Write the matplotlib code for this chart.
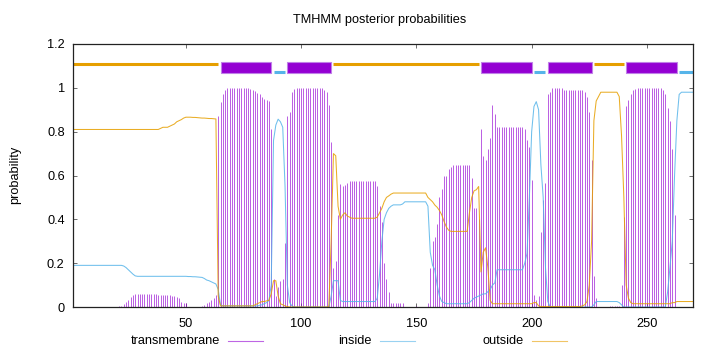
import matplotlib
matplotlib.use("Agg")
import matplotlib.pyplot as plt
import numpy as np
from matplotlib.lines import Line2D
from matplotlib.patches import Rectangle
from matplotlib.ticker import FuncFormatter

# posterior probabilities per residue (1..270)
tm = [
    0, 0, 0, 0, 0, 0, 0, 0, 0, 0,
    0, 0, 0, 0, 0, 0, 0, 0, 0, 0,
    0.003, 0.006, 0.014, 0.025, 0.03, 0.045, 0.053, 0.058, 0.058, 0.058,
    0.058, 0.058, 0.058, 0.058, 0.058, 0.058, 0.058, 0.057, 0.057, 0.057,
    0.057, 0.056, 0.055, 0.05, 0.05, 0.045, 0.04, 0.025, 0.02, 0.02,
    0, 0, 0, 0, 0, 0, 0.005, 0.01, 0.017, 0.024,
    0.03, 0.04, 0.055, 0.87, 0.935, 0.97, 0.99, 1.0, 1.0, 1.0,
    1.0, 1.0, 1.0, 1.0, 1.0, 1.0, 1.0, 0.995, 0.99, 0.985,
    0.975, 0.97, 0.96, 0.95, 0.945, 0.94, 0.81, 0.13, 0.05, 0.09,
    0.12, 0.13, 0.29, 0.87, 0.89, 0.98, 0.995, 1.0, 1.0, 1.0,
    1.0, 1.0, 1.0, 1.0, 1.0, 1.0, 1.0, 1.0, 1.0, 0.99,
    0.98, 0.92, 0.755, 0.18, 0.21, 0.42, 0.56, 0.55, 0.555, 0.565,
    0.575, 0.575, 0.575, 0.575, 0.575, 0.575, 0.575, 0.575, 0.575, 0.575,
    0.575, 0.575, 0.55, 0.46, 0.39, 0.2, 0.13, 0.07, 0.02, 0.02,
    0.02, 0.02, 0.02, 0.02, 0, 0, 0, 0, 0, 0.005,
    0, 0, 0, 0, 0.02, 0.18, 0.3, 0.32, 0.38, 0.5,
    0.54, 0.6, 0.6, 0.63, 0.64, 0.647, 0.647, 0.647, 0.647, 0.647,
    0.647, 0.647, 0.647, 0.59, 0.45, 0.45, 0.4, 0.81, 0.69, 0.67,
    0.72, 0.77, 0.92, 0.88, 0.82, 0.82, 0.82, 0.82, 0.82, 0.82,
    0.82, 0.82, 0.82, 0.82, 0.82, 0.82, 0.81, 0.76, 0.73, 0.58,
    0.055, 0.03, 0.05, 0.34, 0.49, 0.565, 0.97, 0.98, 1.0, 1.0,
    1.0, 1.0, 1.0, 0.99, 0.99, 0.99, 0.99, 0.99, 0.99, 0.99,
    0.99, 0.99, 0.98, 0.96, 0.89, 0.67, 0.14, 0.04, 0, 0,
    0, 0, 0, 0.005, 0.005, 0.005, 0.005, 0.005, 0.1, 0.41,
    0.915, 0.945, 0.97, 0.99, 0.995, 1.0, 1.0, 1.0, 1.0, 1.0,
    1.0, 1.0, 1.0, 1.0, 1.0, 1.0, 0.99, 0.97, 0.91, 0.85,
    0.72, 0.42, 0, 0, 0, 0, 0, 0, 0, 0,
]

inside = [
    0.19, 0.19, 0.19, 0.19, 0.19, 0.19, 0.19, 0.19, 0.19, 0.19,
    0.19, 0.19, 0.19, 0.19, 0.19, 0.19, 0.19, 0.19, 0.19, 0.19,
    0.19, 0.19, 0.187, 0.18, 0.17, 0.16, 0.15, 0.142, 0.14, 0.14,
    0.14, 0.14, 0.14, 0.14, 0.14, 0.14, 0.14, 0.14, 0.14, 0.14,
    0.14, 0.14, 0.14, 0.14, 0.14, 0.14, 0.14, 0.14, 0.14, 0.14,
    0.139, 0.139, 0.138, 0.138, 0.137, 0.136, 0.135, 0.13, 0.123, 0.12,
    0.115, 0.11, 0.105, 0.08, 0.01, 0.005, 0.005, 0.005, 0.005, 0.005,
    0.005, 0.005, 0.005, 0.005, 0.005, 0.005, 0.005, 0.005, 0.005, 0.005,
    0.005, 0.008, 0.01, 0.015, 0.02, 0.03, 0.1, 0.76, 0.83, 0.857,
    0.845, 0.82, 0.55, 0.1, 0.02, 0.005, 0, 0, 0, 0,
    0, 0, 0, 0, 0, 0, 0, 0, 0, 0,
    0, 0, 0.05, 0.12, 0.12, 0.12, 0.03, 0.025, 0.025, 0.025,
    0.025, 0.025, 0.025, 0.025, 0.025, 0.025, 0.025, 0.025, 0.025, 0.025,
    0.025, 0.025, 0.04, 0.15, 0.3, 0.4, 0.43, 0.45, 0.46, 0.466,
    0.466, 0.466, 0.466, 0.47, 0.48, 0.48, 0.48, 0.48, 0.48, 0.48,
    0.48, 0.48, 0.48, 0.48, 0.46, 0.25, 0.19, 0.17, 0.1, 0.05,
    0.025, 0.02, 0.015, 0.015, 0.015, 0.015, 0.015, 0.015, 0.015, 0.015,
    0.015, 0.015, 0.02, 0.03, 0.04, 0.045, 0.05, 0.055, 0.06, 0.06,
    0.07, 0.08, 0.1, 0.11, 0.17, 0.17, 0.17, 0.17, 0.17, 0.17,
    0.17, 0.17, 0.17, 0.17, 0.17, 0.17, 0.2, 0.245, 0.5, 0.8,
    0.915, 0.937, 0.9, 0.65, 0.5, 0.18, 0.025, 0, 0, 0,
    0, 0, 0, 0, 0, 0, 0, 0, 0, 0,
    0, 0, 0, 0, 0, 0, 0.01, 0.025, 0.025, 0.025,
    0.025, 0.025, 0.025, 0.025, 0.025, 0.025, 0.025, 0.02, 0.01, 0,
    0, 0, 0, 0, 0, 0, 0, 0, 0, 0,
    0, 0, 0, 0, 0, 0, 0, 0, 0.07, 0.18,
    0.3, 0.6, 0.85, 0.97, 0.98, 0.98, 0.98, 0.98, 0.98, 0.98,
]

outside = [
    0.81, 0.81, 0.81, 0.81, 0.81, 0.81, 0.81, 0.81, 0.81, 0.81,
    0.81, 0.81, 0.81, 0.81, 0.81, 0.81, 0.81, 0.81, 0.81, 0.81,
    0.81, 0.81, 0.81, 0.81, 0.81, 0.81, 0.81, 0.81, 0.81, 0.81,
    0.81, 0.81, 0.81, 0.81, 0.81, 0.81, 0.81, 0.81, 0.815, 0.82,
    0.82, 0.82, 0.825, 0.83, 0.835, 0.845, 0.85, 0.855, 0.862, 0.866,
    0.866, 0.866, 0.865, 0.865, 0.864, 0.863, 0.862, 0.862, 0.861, 0.86,
    0.86, 0.859, 0.858, 0.05, 0.005, 0.005, 0.005, 0.005, 0.005, 0.005,
    0.005, 0.005, 0.005, 0.005, 0.005, 0.005, 0.005, 0.005, 0.005, 0.01,
    0.015, 0.02, 0.025, 0.025, 0.028, 0.03, 0.06, 0.12, 0.12, 0.05,
    0.015, 0.01, 0.005, 0.002, 0, 0, 0, 0, 0, 0,
    0, 0, 0, 0, 0, 0, 0, 0, 0, 0,
    0, 0.002, 0.3, 0.7, 0.69, 0.46, 0.4, 0.42, 0.43, 0.415,
    0.41, 0.405, 0.405, 0.405, 0.405, 0.405, 0.405, 0.405, 0.405, 0.405,
    0.405, 0.405, 0.41, 0.43, 0.45, 0.48, 0.5, 0.507, 0.515, 0.52,
    0.52, 0.52, 0.52, 0.52, 0.52, 0.52, 0.52, 0.52, 0.52, 0.52,
    0.52, 0.52, 0.52, 0.52, 0.5, 0.49, 0.48, 0.465, 0.455, 0.44,
    0.42, 0.39, 0.365, 0.35, 0.345, 0.345, 0.345, 0.345, 0.345, 0.345,
    0.345, 0.345, 0.43, 0.5, 0.53, 0.535, 0.55, 0.16, 0.25, 0.27,
    0.18, 0.03, 0.015, 0.015, 0.015, 0.015, 0.015, 0.015, 0.015, 0.015,
    0.015, 0.015, 0.015, 0.015, 0.015, 0.015, 0.015, 0.015, 0.015, 0.015,
    0.02, 0.02, 0.005, 0.002, 0.002, 0.002, 0.002, 0.002, 0.002, 0.002,
    0.002, 0.002, 0.002, 0.002, 0.002, 0.002, 0.002, 0.002, 0.002, 0.002,
    0.002, 0.005, 0.01, 0.025, 0.1, 0.3, 0.85, 0.94, 0.96, 0.98,
    0.98, 0.98, 0.98, 0.98, 0.98, 0.98, 0.98, 0.96, 0.78, 0.5,
    0.1, 0.04, 0.02, 0.015, 0.015, 0.015, 0.015, 0.015, 0.015, 0.015,
    0.015, 0.015, 0.015, 0.015, 0.015, 0.015, 0.015, 0.015, 0.015, 0.015,
    0.02, 0.02, 0.025, 0.025, 0.025, 0.025, 0.025, 0.025, 0.025, 0.025,
]

# predicted topology (start, end residue)
seg_outside = [(1, 64), (114, 177), (227, 240)]
seg_tm = [(65, 87), (94, 113), (178, 200), (207, 226), (241, 263)]
seg_inside = [(88, 93), (201, 206), (264, 270)]

PURPLE = "#9400d3"
BLUE = "#56b4e9"
ORANGE = "#e69f00"

plt.rcParams["font.family"] = ["Liberation Sans", "DejaVu Sans"]
plt.rcParams["font.size"] = 9.2

fig = plt.figure(figsize=(7.2, 3.52), dpi=100)
ax = fig.add_axes([73 / 720, 1 - 307 / 352, 620 / 720, 263 / 352])

res = np.arange(1, len(tm) + 1)
ax.vlines(res, 0, tm, color=PURPLE, lw=0.72, alpha=0.62)
ax.plot(res, inside, color=BLUE, lw=0.75, alpha=0.85)
ax.plot(res, outside, color=ORANGE, lw=0.75, alpha=0.85)

for s, e in seg_outside:
    ax.plot([s, e], [1.11, 1.11], color=ORANGE, lw=2.2, solid_capstyle="butt")
for s, e in seg_inside:
    ax.plot([s, e], [1.072, 1.072], color=BLUE, lw=2.2, solid_capstyle="butt")
for s, e in seg_tm:
    ax.add_patch(Rectangle((s, 1.068), e - s, 0.05, facecolor=PURPLE,
                           edgecolor="#c080e8", lw=0.8))

ax.set_xlim(1, 270)
ax.set_ylim(0, 1.2)
ax.set_xticks([50, 100, 150, 200, 250])
ax.set_yticks([0, 0.2, 0.4, 0.6, 0.8, 1.0, 1.2])
ax.yaxis.set_major_formatter(FuncFormatter(lambda v, p: f"{v:g}"))
ax.tick_params(direction="in", length=3, width=0.6, top=True, right=True,
               color="#555555", labelsize=9.2)
ax.tick_params(axis="x", pad=8)
ax.tick_params(axis="y", pad=6)
for sp in ax.spines.values():
    sp.set_linewidth(0.9)
    sp.set_color("#222222")

fig.text(380 / 720, 1 - 20 / 352, "TMHMM posterior probabilities",
         ha="center", va="center", fontsize=9.2)
fig.text(15 / 720, 1 - 175 / 352, "probability", rotation=90,
         ha="center", va="center", fontsize=9.2)

# key along the bottom: label then line sample
key = [("transmembrane", PURPLE, 220), ("inside", BLUE, 372),
       ("outside", ORANGE, 524)]
ky = 1 - 341 / 352
for label, col, xr in key:
    fig.text(xr / 720, ky, label, ha="right", va="center", fontsize=9.2)
    fig.add_artist(Line2D([(xr + 8) / 720, (xr + 43) / 720], [ky, ky],
                          color=col, lw=0.8, alpha=0.6))

fig.savefig("out.png", dpi=100)
